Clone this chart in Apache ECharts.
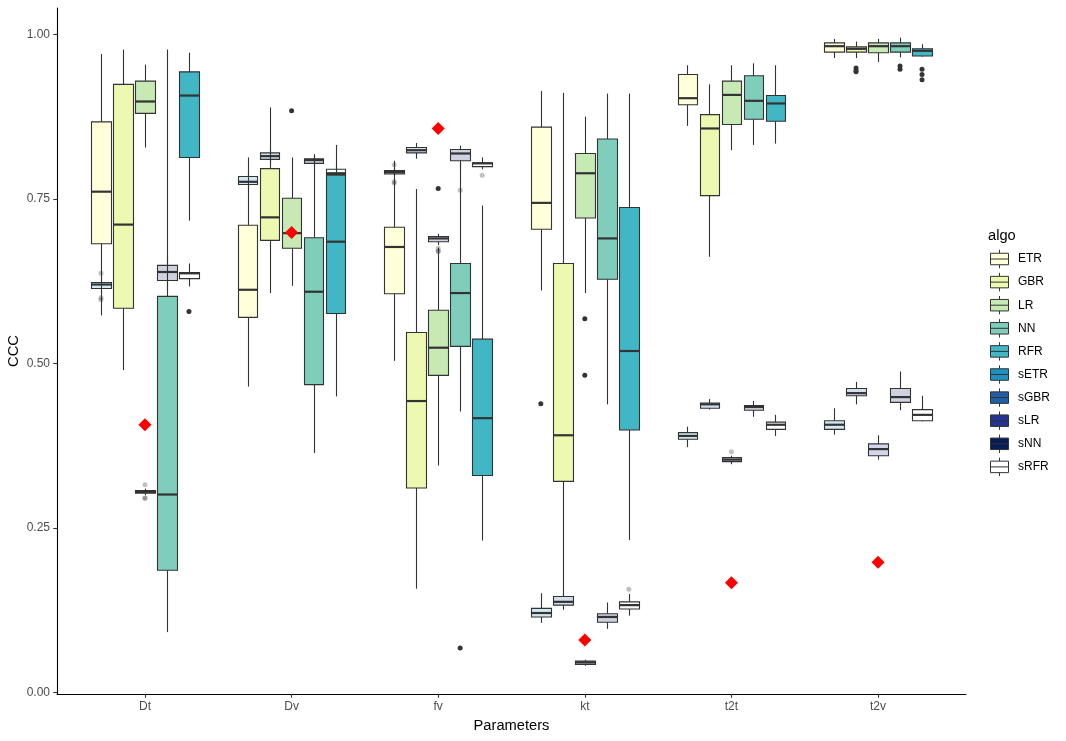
<!DOCTYPE html>
<html>
<head>
<meta charset="utf-8">
<script src="https://cdn.jsdelivr.net/npm/echarts@6/dist/echarts.min.js"></script>
<style>html,body{margin:0;padding:0;background:#fff}#chart{width:1066px;height:741px}</style>
</head>
<body>
<div id="chart"></div>
<script>
// ---- data ----
const categories = ['Dt', 'Dv', 'fv', 'kt', 't2t', 't2v'];
const algos = ['ETR', 'GBR', 'LR', 'NN', 'RFR', 'sETR', 'sGBR', 'sLR', 'sNN', 'sRFR'];
const yTicks = [0, 0.25, 0.5, 0.75, 1.0];

// each row: [lowWhisker, Q1, median, Q3, highWhisker] per category (null = no box)
const ETR = [[0.573,0.682,0.761,0.867,0.970],[0.465,0.570,0.612,0.710,0.813],[0.504,0.606,0.677,0.707,0.808],[0.611,0.704,0.744,0.859,0.914],[0.861,0.893,0.903,0.939,0.953],[0.964,0.973,0.982,0.987,0.993]];
const GBR = [[0.490,0.584,0.711,0.924,0.977],[0.607,0.687,0.722,0.796,0.889],[0.158,0.311,0.443,0.547,0.765],[0.147,0.321,0.391,0.652,0.911],[0.662,0.755,0.857,0.878,0.924],[0.964,0.973,0.978,0.981,0.989]];
const LR  = [[0.828,0.880,0.898,0.929,0.954],[0.618,0.675,0.698,0.751,0.813],[0.345,0.482,0.524,0.581,0.676],[0.607,0.721,0.789,0.819,0.875],[0.824,0.863,0.908,0.929,0.953],[0.958,0.972,0.982,0.987,0.993]];
const NN  = [[0.092,0.186,0.301,0.602,0.977],[0.364,0.468,0.609,0.691,0.818],[0.427,0.526,0.607,0.652,0.805],[0.438,0.628,0.690,0.841,0.910],[0.832,0.871,0.899,0.937,0.956],[0.965,0.973,0.982,0.987,0.995]];
const RFR = [[0.717,0.813,0.907,0.943,0.972],[0.450,0.576,0.685,0.786,0.832],[0.231,0.330,0.417,0.537,0.740],[0.232,0.399,0.519,0.737,0.910],[0.834,0.868,0.895,0.907,0.953],[0.966,0.967,0.975,0.978,0.985]];
const sETR = [[0.607,0.614,0.620,0.623,0.630],[0.765,0.772,0.776,0.784,0.792],[0.785,0.788,0.791,0.793,0.797],[0.106,0.115,0.121,0.128,0.151],[0.373,0.385,0.390,0.395,0.404],[0.392,0.400,0.407,0.413,0.432]];
const sGBR = [null,[0.803,0.810,0.815,0.820,0.826],[0.811,0.820,0.824,0.828,0.835],[0.126,0.133,0.138,0.146,0.152],[0.430,0.432,0.438,0.440,0.446],[0.438,0.451,0.455,0.462,0.472]];
const sLR  = [[0.300,0.303,0.305,0.307,0.310],null,[0.680,0.685,0.690,0.693,0.697],[0.041,0.043,0.046,0.048,0.050],[0.347,0.351,0.354,0.357,0.360],[0.354,0.360,0.370,0.378,0.391]];
const sNN  = [[0.612,0.626,0.639,0.649,0.662],[0.800,0.804,0.809,0.811,0.815],[0.795,0.808,0.819,0.825,0.831],[0.097,0.107,0.115,0.120,0.137],[0.419,0.429,0.434,0.436,0.443],[0.429,0.441,0.449,0.462,0.488]];
const sRFR = [[0.617,0.629,0.637,0.638,0.652],[0.787,0.787,0.789,0.795,0.800],[0.795,0.799,0.804,0.805,0.813],[0.117,0.127,0.133,0.138,0.150],[0.390,0.400,0.407,0.411,0.422],[0.412,0.413,0.422,0.430,0.451]];

// outliers: [categoryIndex, value]
const ETR_out = [[3,0.439]];
const GBR_out = [[5,0.949],[5,0.945],[5,0.943]];
const LR_out  = [[1,0.884],[2,0.766],[3,0.568],[3,0.482]];
const NN_out  = [[2,0.068],[5,0.952],[5,0.947]];
const RFR_out = [[0,0.579],[5,0.947],[5,0.939],[5,0.931]];
const sETR_out = [[0,0.637],[0,0.600],[0,0.597],[2,0.802],[2,0.776],[2,0.774]];
const sGBR_out = [];
const sLR_out  = [[0,0.316],[0,0.296],[0,0.295],[2,0.675],[2,0.671],[2,0.670],[4,0.366]];
const sNN_out  = [[2,0.763]];
const sRFR_out = [[2,0.786],[3,0.157]];

// red diamond marker per parameter
const redPoints = [0.407, 0.699, 0.857, 0.080, 0.167, 0.198];

const statsByAlgo = [ETR, GBR, LR, NN, RFR, sETR, sGBR, sLR, sNN, sRFR];
const outByAlgo = [ETR_out, GBR_out, LR_out, NN_out, RFR_out, sETR_out, sGBR_out, sLR_out, sNN_out, sRFR_out];

// ---- styles ----
const legendColors = ['#FFFFD9','#EDF8B1','#C7E9B4','#7FCDBB','#41B6C4','#1D91C0','#225EA8','#253494','#081D58','#FFFFFF'];
const boxFills = ['#FFFFD9','#EDF8B1','#C7E9B4','#7FCDBB','#41B6C4',
  'rgba(29,145,192,0.2)','rgba(34,94,168,0.2)','rgba(37,52,148,0.2)','rgba(8,29,88,0.2)','rgba(255,255,255,0)'];
const DODGE = 0.15, BOX_W = 0.135;
const LINE = '#333333';
const FONT = 'Liberation Sans, Arial, sans-serif';

function makeRender(slot, fill) {
  return function (params, api) {
    const xc = api.value(0) + (slot - 2) * DODGE;
    const c = v => api.coord([xc, v]);
    const pLow = c(api.value(1)), pQ1 = c(api.value(2)), pMed = c(api.value(3)),
          pQ3 = c(api.value(4)), pHigh = c(api.value(5));
    const w = api.size([BOX_W, 0])[0];
    const cx = Math.round(pMed[0]) + 0.5;
    const left = Math.round(pMed[0] - w / 2) + 0.5;
    const right = Math.round(pMed[0] + w / 2) + 0.5;
    return {
      type: 'group',
      children: [
        { type: 'line', shape: { x1: cx, y1: pHigh[1], x2: cx, y2: pQ3[1] }, style: { stroke: LINE, lineWidth: 1.1 } },
        { type: 'line', shape: { x1: cx, y1: pQ1[1], x2: cx, y2: pLow[1] }, style: { stroke: LINE, lineWidth: 1.1 } },
        { type: 'rect', shape: { x: left, y: pQ3[1], width: right - left, height: pQ1[1] - pQ3[1] },
          style: { fill: fill, stroke: LINE, lineWidth: 1.1 } },
        { type: 'line', shape: { x1: left, y1: pMed[1], x2: right, y2: pMed[1] }, style: { stroke: LINE, lineWidth: 2.2 } }
      ]
    };
  };
}

const series = [];
algos.forEach((name, i) => {
  const slot = i % 5;
  const data = [];
  statsByAlgo[i].forEach((s, ci) => { if (s) data.push([ci].concat(s)); });
  series.push({
    name: name, type: 'custom', renderItem: makeRender(slot, boxFills[i]),
    encode: { x: 0, y: [1, 2, 3, 4, 5] }, data: data, z: 2, silent: true
  });
  series.push({
    name: name + '_out', type: 'scatter', symbol: 'circle', symbolSize: 5,
    itemStyle: { color: i < 5 ? '#333333' : 'rgba(51,51,51,0.3)', opacity: 1 },
    data: outByAlgo[i].map(o => [o[0] + (slot - 2) * DODGE, o[1]]), z: 3, silent: true
  });
});
series.push({
  name: 'red', type: 'scatter', symbol: 'diamond', symbolSize: [13, 13],
  itemStyle: { color: '#FF0000', opacity: 1 },
  data: redPoints.map((v, ci) => [ci, v]), z: 5, silent: true
});

// legend drawn as boxplot glyphs
const graphics = [{ type: 'text', left: 988, top: 228, style: { text: 'algo', fill: '#000', font: '14.7px ' + FONT } }];
algos.forEach((name, i) => {
  const cy = 259 + 23.1 * i;
  const cx = 999.5;
  graphics.push({ type: 'line', shape: { x1: cx, y1: cy - 9.2, x2: cx, y2: cy - 5.75 }, style: { stroke: LINE, lineWidth: 1 } });
  graphics.push({ type: 'line', shape: { x1: cx, y1: cy + 5.75, x2: cx, y2: cy + 9.2 }, style: { stroke: LINE, lineWidth: 1 } });
  graphics.push({ type: 'rect', shape: { x: 990.5, y: cy - 5.75, width: 18, height: 11.5 }, style: { fill: legendColors[i], stroke: LINE, lineWidth: 1 } });
  graphics.push({ type: 'line', shape: { x1: 990.5, y1: cy, x2: 1008.5, y2: cy }, style: { stroke: LINE, lineWidth: 1 } });
  graphics.push({ type: 'text', x: 1018, y: cy, style: { text: name, fill: '#000', font: '12px ' + FONT, textVerticalAlign: 'middle' } });
});

const chart = echarts.init(document.getElementById('chart'), null, { renderer: 'canvas' });
chart.setOption({
  animation: false,
  backgroundColor: '#fff',
  grid: { left: 57, right: 100, top: 8, bottom: 47, containLabel: false, outerBoundsMode: 'none' },
  xAxis: {
    type: 'value', min: -0.6, max: 5.6,
    name: 'Parameters', nameLocation: 'middle', nameGap: 24, nameMoveOverlap: false,
    nameTextStyle: { color: '#000', fontSize: 14.7, fontFamily: FONT },
    axisLine: { show: true, onZero: false, lineStyle: { color: '#000', width: 1.1 } },
    axisTick: { show: true, length: 3.7, customValues: categories.map((c, i) => i), lineStyle: { color: LINE, width: 1.1 } },
    axisLabel: { show: true, customValues: categories.map((c, i) => i), margin: 7,
      formatter: v => categories[Math.round(v)], color: '#4D4D4D', fontSize: 12, fontFamily: FONT },
    splitLine: { show: false }
  },
  yAxis: {
    type: 'value', min: -0.002, max: 1.040,
    name: 'CCC', nameLocation: 'middle', nameGap: 36, nameRotate: 90, nameMoveOverlap: false,
    nameTextStyle: { color: '#000', fontSize: 14.7, fontFamily: FONT },
    axisLine: { show: true, onZero: false, lineStyle: { color: '#000', width: 1.1 } },
    axisTick: { show: true, length: 3.7, customValues: yTicks, lineStyle: { color: LINE, width: 1.1 } },
    axisLabel: { show: true, customValues: yTicks, margin: 7, formatter: v => v.toFixed(2),
      color: '#4D4D4D', fontSize: 12, fontFamily: FONT },
    splitLine: { show: false }
  },
  graphic: graphics,
  series: series
});
</script>
</body>
</html>
